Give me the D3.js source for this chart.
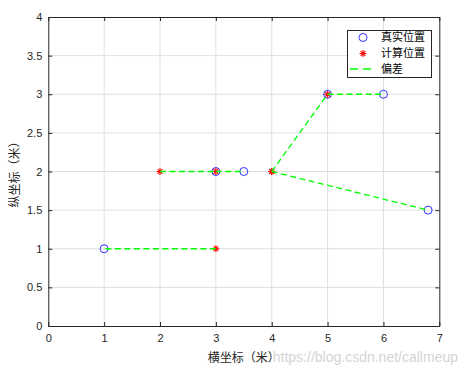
<!DOCTYPE html>
<html>
<head>
<meta charset="utf-8">
<script src="https://cdn.jsdelivr.net/npm/d3@7"></script>
<style>
  body { margin: 0; background: #fff; }
  svg { display: block; font-family: "Liberation Sans", Arial, "Noto Sans CJK SC", sans-serif; }
</style>
</head>
<body>
<script>
// true positions and computed positions, paired by index
const true_x = [1, 3, 3.5, 5, 6, 6.8]
const true_y = [1, 2, 2, 3, 3, 1.5]
const calc_x = [3, 2, 3, 4, 5, 4]
const calc_y = [1, 2, 2, 2, 3, 2]
const x_ticks = [0, 1, 2, 3, 4, 5, 6, 7]
const y_ticks = [0, 0.5, 1, 1.5, 2, 2.5, 3, 3.5, 4]
const legend_labels = ['真实位置', '计算位置', '偏差']

const W = 468, H = 371
const m_left = 48.3, m_right = 439.3, m_top = 17, m_bottom = 326

const svg = d3.select('body').append('svg').attr('width', W).attr('height', H)

const x = d3.scaleLinear().domain([0, 7]).range([m_left, m_right])
const y = d3.scaleLinear().domain([0, 4]).range([m_bottom, m_top])

// grid
const grid = svg.append('g').attr('stroke', '#dfdfdf').attr('stroke-width', 1)
x_ticks.slice(1, -1).forEach(t => grid.append('line')
  .attr('x1', x(t)).attr('x2', x(t)).attr('y1', m_top).attr('y2', m_bottom))
y_ticks.slice(1, -1).forEach(t => grid.append('line')
  .attr('y1', y(t)).attr('y2', y(t)).attr('x1', m_left).attr('x2', m_right))

// axes, ticks inward
const ax_b = svg.append('g').attr('transform', `translate(0,${m_bottom})`)
  .call(d3.axisBottom(x).tickValues(x_ticks).tickSizeInner(-4).tickSizeOuter(0).tickPadding(8).tickFormat(d3.format('')))
const ax_l = svg.append('g').attr('transform', `translate(${m_left},0)`)
  .call(d3.axisLeft(y).tickValues(y_ticks).tickSizeInner(-4).tickSizeOuter(0).tickPadding(6).tickFormat(d3.format('')))
const ax_t = svg.append('g').attr('transform', `translate(0,${m_top})`)
  .call(d3.axisTop(x).tickValues(x_ticks).tickSizeInner(-4).tickSizeOuter(0).tickFormat(''))
const ax_r = svg.append('g').attr('transform', `translate(${m_right},0)`)
  .call(d3.axisRight(y).tickValues(y_ticks).tickSizeInner(-4).tickSizeOuter(0).tickFormat(''))
;[ax_b, ax_l, ax_t, ax_r].forEach(a => {
  a.select('.domain').attr('stroke', '#262626')
  a.selectAll('.tick line').attr('stroke', '#262626')
  a.selectAll('.tick text').attr('fill', '#262626').style('font-size', '11px')
})

// markers
const circle_path = d3.symbol().type(d3.symbolCircle).size(Math.PI * 16)()
const star = r => `M${-r},0L${r},0M0,${-r}L0,${r}M${-r * .7},${-r * .7}L${r * .7},${r * .7}M${-r * .7},${r * .7}L${r * .7},${-r * .7}`

svg.append('g').selectAll('path').data(true_x).join('path')
  .attr('transform', (d, i) => `translate(${x(d)},${y(true_y[i])})`)
  .attr('d', circle_path).attr('fill', 'none').attr('stroke', '#0000ff').attr('stroke-width', 0.8)

svg.append('g').selectAll('path').data(calc_x).join('path')
  .attr('transform', (d, i) => `translate(${x(d)},${y(calc_y[i])})`)
  .attr('d', star(3.5)).attr('fill', 'none').attr('stroke', '#ff0000').attr('stroke-width', 1.1)

// deviation lines
svg.append('g').selectAll('line').data(true_x).join('line')
  .attr('x1', (d, i) => x(calc_x[i])).attr('y1', (d, i) => y(calc_y[i]))
  .attr('x2', d => x(d)).attr('y2', (d, i) => y(true_y[i]))
  .attr('stroke', '#00ff00').attr('stroke-width', 1.3).attr('stroke-dasharray', '6,3.5')

// legend
const lg = svg.append('g')
lg.append('rect').attr('x', 347.5).attr('y', 30.5).attr('width', 84).attr('height', 47)
  .attr('fill', '#fff').attr('stroke', '#262626').attr('stroke-width', 1)
const ly = [37.5, 53.5, 69]
lg.append('path').attr('transform', `translate(363,${ly[0]})`).attr('d', circle_path)
  .attr('fill', 'none').attr('stroke', '#0000ff').attr('stroke-width', 0.8)
lg.append('path').attr('transform', `translate(363,${ly[1]})`).attr('d', star(3.5))
  .attr('fill', 'none').attr('stroke', '#ff0000').attr('stroke-width', 1.1)
lg.append('line').attr('x1', 350).attr('x2', 376).attr('y1', ly[2]).attr('y2', ly[2])
  .attr('stroke', '#00ff00').attr('stroke-width', 1.3).attr('stroke-dasharray', '8,5')
lg.selectAll('text').data(legend_labels).join('text')
  .attr('x', 381).attr('y', (d, i) => ly[i]).attr('dy', '0.35em')
  .style('font-size', '11px').attr('fill', '#000').text(d => d)

// watermark (drawn under the axis title, as in the source)
svg.append('text').attr('x', 458).attr('y', 362).attr('text-anchor', 'end')
  .style('font-size', '14px').attr('fill', '#d4d4d4')
  .text('https://blog.csdn.net/callmeup')

// axis titles
svg.append('text').attr('x', (m_left + m_right) / 2).attr('y', 362)
  .attr('text-anchor', 'middle').style('font-size', '12px').attr('fill', '#262626')
  .attr('stroke', '#fff').attr('stroke-width', 2).attr('paint-order', 'stroke')
  .text('横坐标（米）')
svg.append('text').attr('transform', `translate(19,${(m_top + m_bottom) / 2}) rotate(-90)`)
  .attr('text-anchor', 'middle').style('font-size', '12px').attr('fill', '#262626')
  .text('纵坐标（米）')
</script>
</body>
</html>
